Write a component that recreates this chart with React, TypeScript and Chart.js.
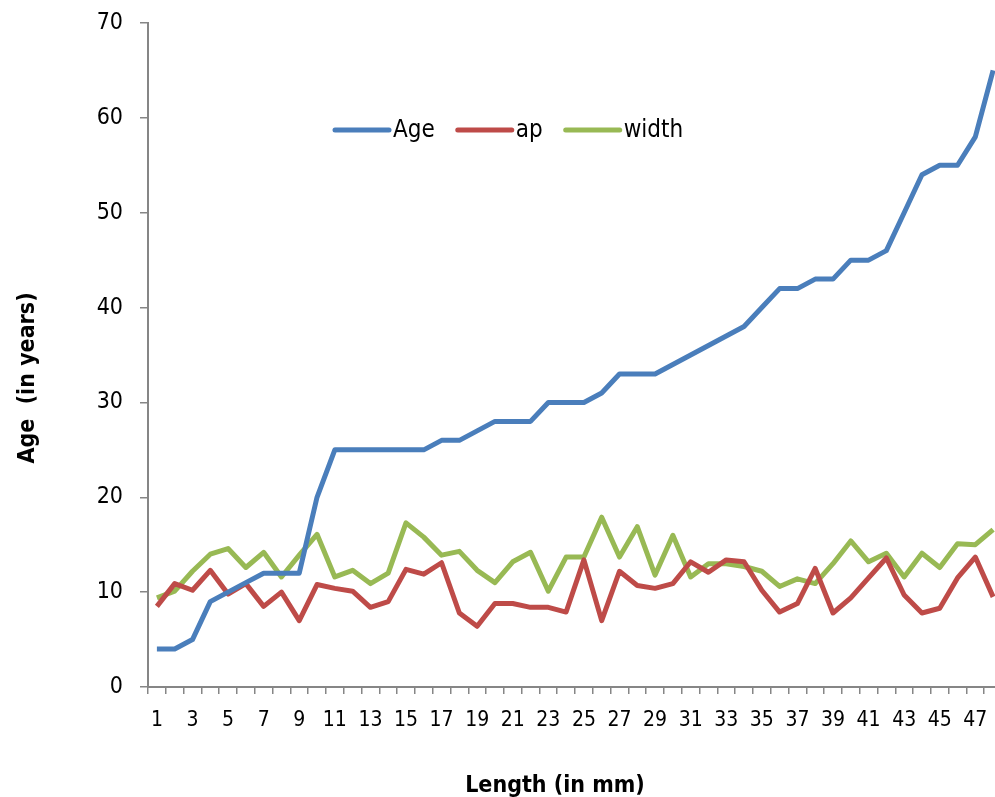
import React, { useEffect, useRef } from "react";
import { Chart, registerables } from "chart.js";

Chart.register(...registerables);

const lengthLabels = [
  "1", "2", "3", "4", "5", "6", "7", "8", "9", "10",
  "11", "12", "13", "14", "15", "16", "17", "18", "19", "20",
  "21", "22", "23", "24", "25", "26", "27", "28", "29", "30",
  "31", "32", "33", "34", "35", "36", "37", "38", "39", "40",
  "41", "42", "43", "44", "45", "46", "47", "48",
];

const ageValues = [
  4, 4, 5, 9, 10, 11, 12, 12, 12, 20,
  25, 25, 25, 25, 25, 25, 26, 26, 27, 28,
  28, 28, 30, 30, 30, 31, 33, 33, 33, 34,
  35, 36, 37, 38, 40, 42, 42, 43, 43, 45,
  45, 46, 50, 54, 55, 55, 58, 65,
];

const apValues = [
  8.5, 10.9, 10.2, 12.3, 9.8, 10.9, 8.5, 10.0, 7.0, 10.8,
  10.4, 10.1, 8.4, 9.0, 12.4, 11.9, 13.1, 7.8, 6.4, 8.8,
  8.8, 8.4, 8.4, 7.9, 13.4, 7.0, 12.2, 10.7, 10.4, 10.9,
  13.2, 12.1, 13.4, 13.2, 10.2, 7.9, 8.8, 12.5, 7.8, 9.4,
  11.5, 13.6, 9.7, 7.8, 8.3, 11.5, 13.7, 9.5,
];

const widthValues = [
  9.4, 10.1, 12.2, 14.0, 14.6, 12.6, 14.2, 11.6, 13.9, 16.1,
  11.6, 12.3, 10.9, 12.0, 17.3, 15.8, 13.9, 14.3, 12.3, 11.0,
  13.2, 14.2, 10.1, 13.7, 13.7, 17.9, 13.7, 16.9, 11.8, 16.0,
  11.6, 13.0, 13.0, 12.7, 12.2, 10.6, 11.4, 10.9, 13.0, 15.4,
  13.2, 14.1, 11.6, 14.1, 12.6, 15.1, 15.0, 16.6,
];

const seriesNames = ["Age", "ap", "width"];
const seriesColors = ["#4A7EBB", "#BE4B48", "#98B954"];
const yTitle = "Age  (in years)";
const xTitle = "Length (in mm)";

const NARROW = "'Liberation Sans Narrow', 'DejaVu Sans Condensed', 'Arial Narrow', sans-serif";

const overlayPlugin = {
  id: "overlayText",
  afterDraw(chart: any) {
    const ctx = chart.ctx;
    const area = chart.chartArea;
    ctx.save();
    // legend inside plot
    ctx.font = `24px ${NARROW}`;
    ctx.textBaseline = "middle";
    ctx.textAlign = "left";
    let x = 335;
    const y = 130;
    chart.data.datasets.forEach((ds: any) => {
      ctx.strokeStyle = ds.borderColor;
      ctx.lineWidth = 5;
      ctx.lineCap = "round";
      ctx.beginPath();
      ctx.moveTo(x, y);
      ctx.lineTo(x + 54, y);
      ctx.stroke();
      ctx.fillStyle = "#000000";
      ctx.fillText(ds.label, x + 58, y + 1);
      x += 58 + ctx.measureText(ds.label).width + 23;
    });
    // axis titles
    ctx.font = `bold 23px ${NARROW}`;
    ctx.fillStyle = "#000000";
    ctx.textAlign = "center";
    ctx.textBaseline = "alphabetic";
    ctx.fillText(xTitle, 555, 792);
    ctx.translate(34, (area.top + area.bottom) / 2 + 23);
    ctx.rotate(-Math.PI / 2);
    ctx.fillText(yTitle, 0, 0);
    ctx.restore();
  },
};

export default function App() {
  const canvasRef = useRef<HTMLCanvasElement | null>(null);

  useEffect(() => {
    const canvas = canvasRef.current;
    if (!canvas) return;
    const chart = new Chart(canvas, {
      type: "line",
      data: {
        labels: lengthLabels,
        datasets: [ageValues, apValues, widthValues].map((vals, i) => ({
          label: seriesNames[i],
          data: vals,
          borderColor: seriesColors[i],
          backgroundColor: seriesColors[i],
          borderWidth: 5,
          pointRadius: 0,
          pointHoverRadius: 0,
          tension: 0,
          borderJoinStyle: "round" as const,
          borderCapStyle: "butt" as const,
          fill: false,
        })),
      },
      options: {
        animation: false,
        responsive: false,
        layout: { padding: { left: 0, right: 2, top: 23, bottom: 0 } },
        plugins: {
          legend: { display: false },
          tooltip: { enabled: false },
          title: { display: false },
        },
        scales: {
          x: {
            type: "category",
            offset: true,
            afterFit: (scale: any) => {
              scale.height = 110;
              scale.paddingLeft = 0;
              scale.paddingRight = 0;
            },
            grid: {
              drawOnChartArea: false,
              offset: true,
              color: "#868686",
              lineWidth: 1.5,
              tickLength: 7,
            },
            border: { display: true, color: "#868686", width: 2 },
            ticks: {
              autoSkip: false,
              maxRotation: 0,
              minRotation: 0,
              padding: 14,
              color: "#000000",
              font: { family: NARROW, size: 21 },
              callback: (_v: any, idx: number) => (idx % 2 === 0 ? lengthLabels[idx] : ""),
            },
          },
          y: {
            min: 0,
            max: 70,
            afterFit: (scale: any) => {
              scale.width = 148;
              scale.paddingTop = 0;
              scale.paddingBottom = 0;
            },
            grid: {
              drawOnChartArea: false,
              color: "#868686",
              lineWidth: 1.5,
              tickLength: 8,
            },
            border: { display: true, color: "#868686", width: 2 },
            ticks: {
              stepSize: 10,
              padding: 17,
              color: "#000000",
              font: { family: NARROW, size: 23 },
            },
          },
        },
      },
      plugins: [overlayPlugin],
    });
    return () => chart.destroy();
  }, []);

  return (
    <div
      style={{
        position: "absolute",
        left: 0,
        top: 0,
        width: 995,
        height: 797,
        overflow: "hidden",
        background: "#ffffff",
      }}
    >
      <canvas
        ref={canvasRef}
        width={1004}
        height={797}
        style={{ width: 1004, height: 797, display: "block" }}
      />
    </div>
  );
}
